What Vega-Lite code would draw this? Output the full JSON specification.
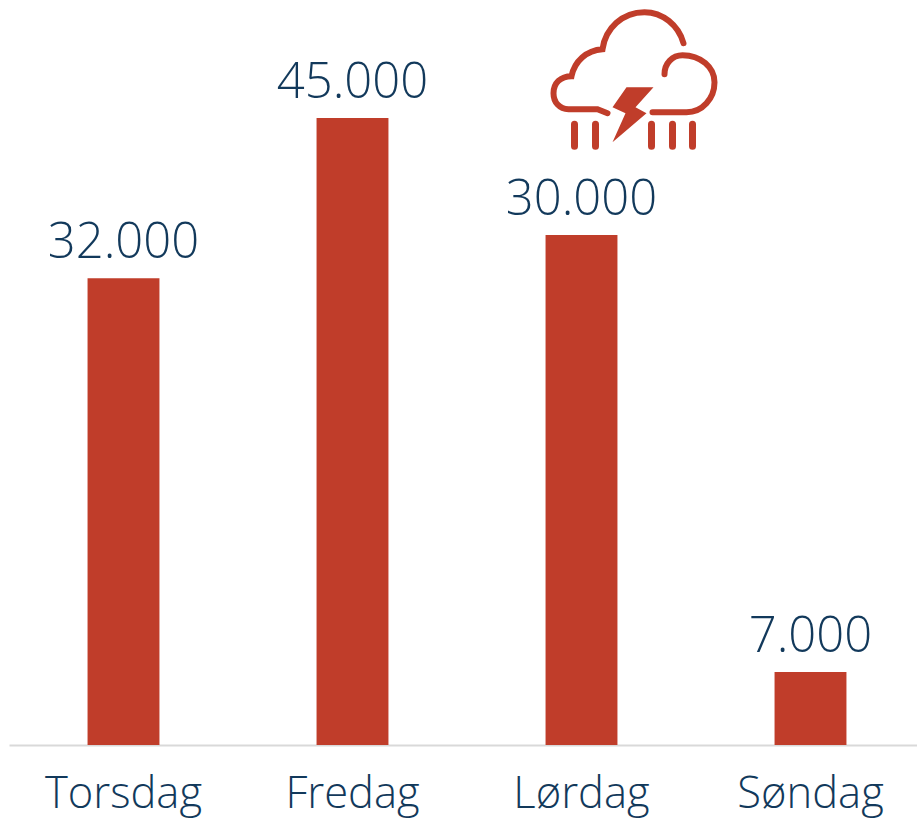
{"$schema":"https://vega.github.io/schema/vega-lite/v6.json","width":916,"height":745,"padding":{"left":9,"top":0,"right":0,"bottom":75},"autosize":"none","config":{"view":{"stroke":null}},"data":{"values":[{"dag":"Torsdag","v":33500,"t":"32.000"},{"dag":"Fredag","v":45000,"t":"45.000"},{"dag":"Lørdag","v":36600,"t":"30.000"},{"dag":"Søndag","v":5240,"t":"7.000"}]},"encoding":{"x":{"field":"dag","type":"nominal","sort":null,"scale":{"paddingInner":0.686,"paddingOuter":0.343},"axis":{"title":null,"labelAngle":0,"labelFont":"Open Sans","labelFontWeight":300,"labelFontSize":43.5,"labelColor":"#12395b","labelPadding":28,"ticks":false,"domainColor":"#d9d9d9","domainWidth":2,"grid":false}},"y":{"field":"v","type":"quantitative","scale":{"domain":[0,53469]},"axis":null}},"layer":[{"mark":{"type":"bar","color":"#c03d2a"}},{"mark":{"type":"text","font":"Open Sans","fontWeight":300,"fontSize":49,"color":"#12395b","baseline":"alphabetic","dy":-20},"encoding":{"text":{"field":"t"}}},{"transform":[{"filter":"datum.dag === 'Lørdag'"}],"mark":{"type":"point","size":4,"filled":false,"xOffset":51,"stroke":"#c03d2a","strokeWidth":6,"strokeCap":"round","fill":null,"opacity":1,"shape":"M-25,37 L-35,33 L-64,33 C-73,33 -79,26 -79,17 C-79,7 -72,0 -61,0 C-58,-15 -46,-26 -30,-27 C-27,-48 -10,-64 12,-64 C30,-64 46,-51 51,-33 M32,-2 C32,-13 40,-21 50,-21 C68,-21 82,-9 82,6 C82,22 70,36 54,36 L20,36"},"encoding":{"y":{"datum":48000}}},{"transform":[{"filter":"datum.dag === 'Lørdag'"}],"mark":{"type":"point","size":4,"filled":false,"xOffset":51,"stroke":"#c03d2a","strokeWidth":7,"strokeCap":"round","fill":null,"opacity":1,"shape":"M-58,48 L-58,70 M-37,48 L-37,70 M19,48 L19,70 M40,48 L40,70 M60,48 L60,70"},"encoding":{"y":{"datum":48000}}},{"transform":[{"filter":"datum.dag === 'Lørdag'"}],"mark":{"type":"point","size":4,"filled":true,"xOffset":51,"fill":"#c03d2a","strokeWidth":0,"opacity":1,"shape":"M-6,11 L21,11 L3,31 L14,37 L-20,66 L-7,37 L-20,31 Z"},"encoding":{"y":{"datum":48000}}}]}
